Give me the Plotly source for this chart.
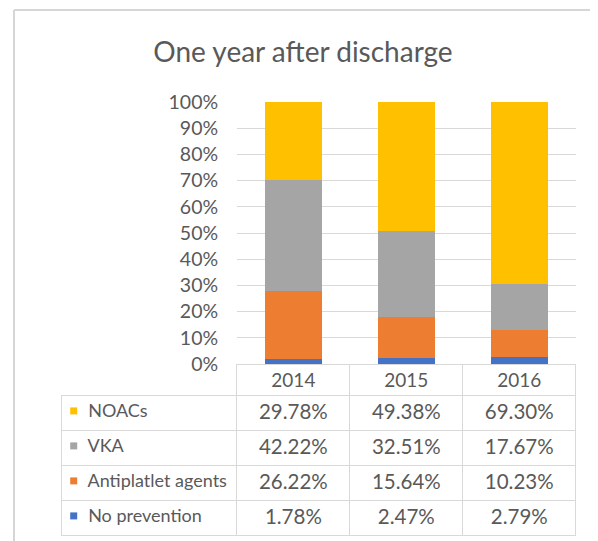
import plotly.graph_objects as go

# ---- data ----
years = ["2014", "2015", "2016"]
series_names = ["NOACs", "VKA", "Antiplatlet agents", "No prevention"]
noacs = [29.78, 49.38, 69.30]
vka = [42.22, 32.51, 17.67]
antiplatelet = [26.22, 15.64, 10.23]
no_prevention = [1.78, 2.47, 2.79]
colors = {"NOACs": "#FFC000", "VKA": "#A5A5A5",
          "Antiplatlet agents": "#ED7D31", "No prevention": "#4472C4"}
title_text = "One year after discharge"

series = {"NOACs": noacs, "VKA": vka,
          "Antiplatlet agents": antiplatelet, "No prevention": no_prevention}

# page body has an 8px margin: figure is drawn 8px in from the window edge
OFF = 8
W, H = 598 - OFF, 541 - OFF
TXT = "#595959"
GRID = "#D9D9D9"
CLEAR = "rgba(0,0,0,0)"


def fx(p):  # window pixel x -> paper fraction
    return (p - OFF) / W


def fy(p):  # window pixel y -> paper fraction
    return 1 - (p - OFF) / H


fig = go.Figure()

# stacked bars: bottom to top
for name in ["No prevention", "Antiplatlet agents", "VKA", "NOACs"]:
    fig.add_trace(go.Bar(
        x=years, y=series[name], name=name,
        marker=dict(color=colors[name], line=dict(width=0)),
        width=0.5, showlegend=False, hoverinfo="skip"))

# legend keys inside the table's label column (one per table row)
fig.add_trace(go.Scatter(
    x=[0] * len(series_names), y=list(range(len(series_names))),
    mode="markers", xaxis="x2", yaxis="y2",
    marker=dict(symbol="square", size=7,
                color=[colors[n] for n in series_names], line=dict(width=0)),
    showlegend=False, hoverinfo="skip", cliponaxis=False))

# data table under the chart (non-breaking spaces keep labels on one line)
NB = "\u00a0"
label_col = [NB * 4 + n.replace(" ", NB) for n in series_names]
value_cols = [[f"{series[n][i]:.2f}%" for n in series_names] for i in range(len(years))]

tbl_l, tbl_r = 61.7, 576
tbl_top, hdr_bot, tbl_bot = 364.5, 395.5, 535.5
fig.add_trace(go.Table(
    domain=dict(x=[fx(tbl_l), fx(tbl_r)], y=[fy(tbl_bot + 1), fy(tbl_top)]),
    columnwidth=[175.3, 113, 113, 113],
    header=dict(
        values=[""] + years,
        align="center",
        height=31,
        fill=dict(color=[CLEAR, "white", "white", "white"]),
        line=dict(color=[CLEAR, GRID, GRID, GRID], width=1),
        font=dict(family="Lato", size=19, color=TXT)),
    cells=dict(
        values=[label_col] + value_cols,
        align=["left", "center", "center", "center"],
        height=35,
        fill=dict(color=[CLEAR, "white", "white", "white"]),
        line=dict(color=GRID, width=1),
        font=dict(family="Lato", size=[18, 20.5, 20.5, 20.5], color=TXT)),
))

fig.update_layout(
    width=W, height=H,
    margin=dict(l=0, r=0, t=0, b=0, autoexpand=False),
    paper_bgcolor="white", plot_bgcolor=CLEAR,
    barmode="stack",
    bargap=0.5,
    title=dict(text=title_text, x=fx(303), xanchor="center",
               y=fy(52), yanchor="middle", yref="container",
               font=dict(family="Lato", size=28, color=TXT)),
    xaxis=dict(domain=[fx(237), fx(576)], range=[-0.5, 2.5], showticklabels=False,
               showgrid=False, zeroline=False, showline=False, fixedrange=True,
               automargin=False),
    yaxis=dict(domain=[fy(364), fy(102)], range=[0, 100], dtick=10, ticksuffix="%",
               showgrid=True, gridcolor=GRID, gridwidth=1, zeroline=False,
               showline=False, ticks="outside", ticklen=14,
               tickcolor=CLEAR, automargin=False,
               tickfont=dict(family="Lato", size=19.5, color=TXT), fixedrange=True),
    xaxis2=dict(domain=[fx(tbl_l), fx(237)], range=[-12, 163.3], visible=False,
                fixedrange=True),
    yaxis2=dict(domain=[fy(tbl_bot), fy(hdr_bot)], range=[3.56, -0.44],
                visible=False, fixedrange=True),
    shapes=[
        dict(type="line", xref="paper", yref="paper", x0=fx(14), x1=1.0,
             y0=fy(10), y1=fy(10), line=dict(color="#D6D6D6", width=2)),
        dict(type="line", xref="paper", yref="paper", x0=fx(14), x1=fx(14),
             y0=0, y1=fy(10), line=dict(color="#D6D6D6", width=2)),
    ],
)

fig.write_html("out.html")
